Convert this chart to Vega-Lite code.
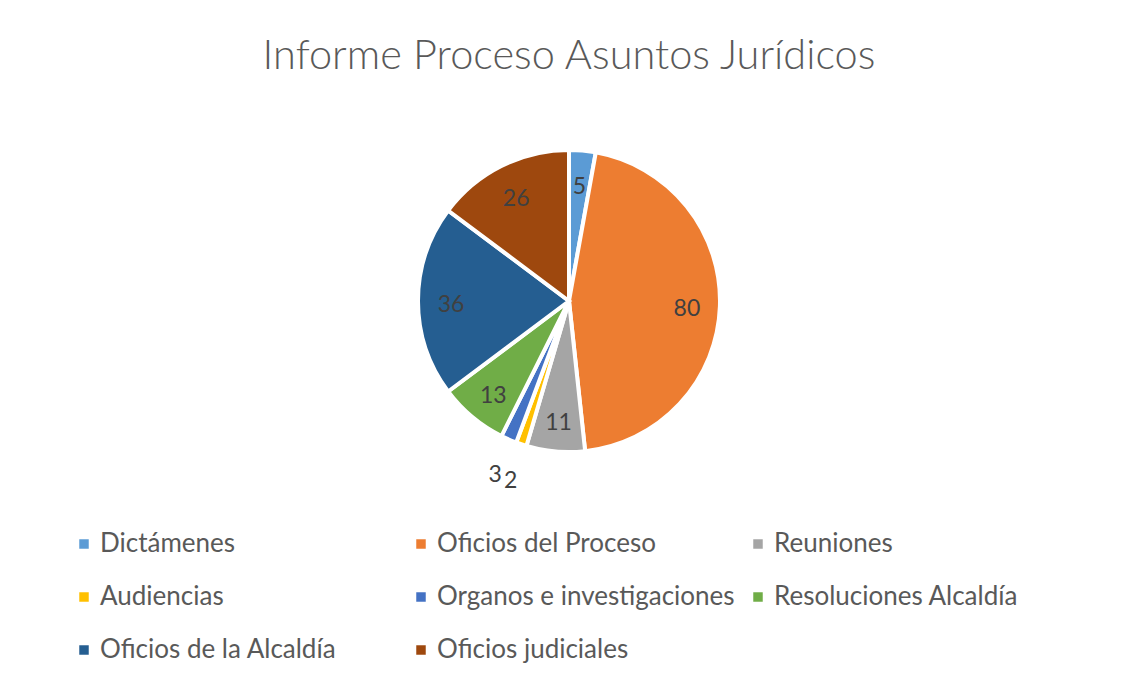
{
  "$schema": "https://vega.github.io/schema/vega-lite/v6.json",
  "width": 1138,
  "height": 302,
  "autosize": "none",
  "padding": {"left": 0, "top": 150, "right": 0, "bottom": 235},
  "background": "white",
  "title": {
    "text": "Informe Proceso Asuntos Jurídicos",
    "font": "Lato",
    "fontSize": 41.5,
    "fontWeight": 300,
    "color": "#595959",
    "anchor": "middle",
    "baseline": "alphabetic",
    "offset": -1
  },
  "data": {
    "values": [
      {"categoria": "Dictámenes", "valor": 5, "orden": 1},
      {"categoria": "Oficios del Proceso", "valor": 80, "orden": 2},
      {"categoria": "Reuniones", "valor": 11, "orden": 3},
      {"categoria": "Audiencias", "valor": 2, "orden": 4},
      {"categoria": "Organos e investigaciones", "valor": 3, "orden": 5},
      {"categoria": "Resoluciones Alcaldía", "valor": 13, "orden": 6},
      {"categoria": "Oficios de la Alcaldía", "valor": 36, "orden": 7},
      {"categoria": "Oficios judiciales", "valor": 26, "orden": 8}
    ]
  },
  "encoding": {
    "theta": {"field": "valor", "type": "quantitative", "stack": true},
    "order": {"field": "orden", "type": "quantitative", "sort": "ascending"},
    "color": {
      "field": "categoria",
      "type": "nominal",
      "sort": null,
      "scale": {
        "domain": ["Dictámenes", "Oficios del Proceso", "Reuniones", "Audiencias", "Organos e investigaciones", "Resoluciones Alcaldía", "Oficios de la Alcaldía", "Oficios judiciales"],
        "range": ["#5B9BD5", "#ED7D31", "#A5A5A5", "#FFC000", "#4472C4", "#70AD47", "#255E91", "#9E480E"]
      },
      "legend": {
        "title": null,
        "orient": "none",
        "legendX": 71,
        "legendY": 381,
        "direction": "horizontal",
        "columns": 3,
        "gridAlign": "all",
        "columnPadding": 10,
        "rowPadding": 27,
        "symbolType": "square",
        "symbolSize": 90,
        "symbolStrokeWidth": 0,
        "labelFont": "Lato",
        "labelFontSize": 26,
        "labelColor": "#595959",
        "labelOffset": 3,
        "labelLimit": 400
      }
    }
  },
  "layer": [
    {
      "mark": {"type": "arc", "outerRadius": 151, "stroke": "white", "strokeWidth": 4}
    },
    {
      "mark": {"type": "text", "radius": 118, "dy": 4, "font": "Lato", "fontSize": 23, "color": "#404040"},
      "encoding": {
        "text": {"condition": {"test": "datum.valor >= 5", "field": "valor", "type": "quantitative"}, "value": ""},
        "color": {"value": "#404040"}
      }
    },
    {
      "mark": {"type": "text", "radius": 185, "dy": 4, "font": "Lato", "fontSize": 23, "color": "#404040"},
      "encoding": {
        "text": {"condition": {"test": "datum.valor < 5", "field": "valor", "type": "quantitative"}, "value": ""},
        "color": {"value": "#404040"}
      }
    }
  ],
  "config": {"view": {"stroke": null}}
}
